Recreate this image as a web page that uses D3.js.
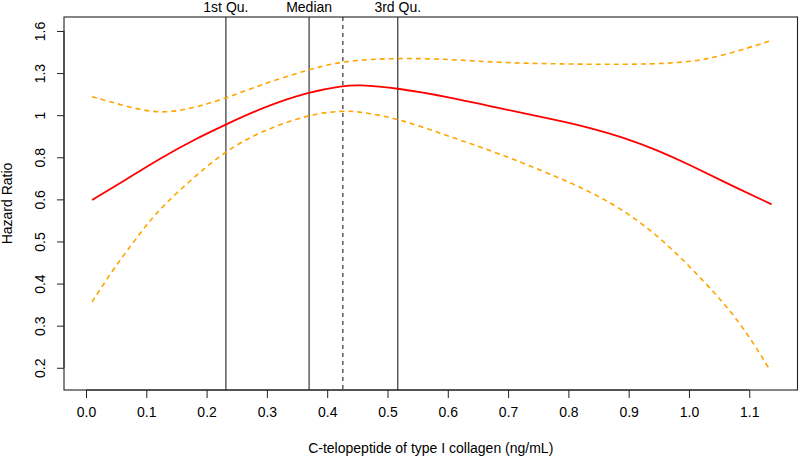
<!DOCTYPE html>
<html>
<head>
<meta charset="utf-8">
<script src="https://cdn.jsdelivr.net/npm/d3@7"></script>
<style>
  html, body { margin: 0; padding: 0; background: #fff; }
  svg { display: block; font-family: "Liberation Sans", Arial, sans-serif; }
</style>
</head>
<body>
<svg id="chart" width="800" height="459"></svg>
<script>
// ---- data (x in ng/mL, values as hazard ratios) ----
const hrX   = [0.010, 0.068, 0.123, 0.178, 0.232, 0.290, 0.370, 0.427, 0.449, 0.517, 0.604, 0.685, 0.781, 0.836, 0.891, 0.947, 1.002, 1.057, 1.137];
const hrY   = [0.604, 0.685, 0.774, 0.863, 0.946, 1.042, 1.150, 1.189, 1.199, 1.175, 1.112, 1.042, 0.972, 0.928, 0.877, 0.813, 0.744, 0.674, 0.589];

const upperX = [0.010, 0.068, 0.123, 0.178, 0.232, 0.289, 0.370, 0.427, 0.517, 0.604, 0.685, 0.781, 0.919, 1.002, 1.057, 1.137];
const upperY = [1.116, 1.052, 1.007, 1.042, 1.106, 1.197, 1.313, 1.382, 1.405, 1.394, 1.366, 1.355, 1.350, 1.369, 1.424, 1.558];

const lowerX = [0.010, 0.045, 0.073, 0.101, 0.129, 0.178, 0.232, 0.289, 0.370, 0.427, 0.454, 0.517, 0.604, 0.685, 0.781, 0.836, 0.891, 0.955, 1.029, 1.085, 1.133];
const lowerY = [0.330, 0.400, 0.458, 0.523, 0.587, 0.690, 0.810, 0.907, 1.007, 1.027, 1.021, 0.982, 0.880, 0.797, 0.694, 0.635, 0.570, 0.481, 0.368, 0.293, 0.222];

const quantValues = [0.232, 0.370, 0.517];
const quantLabels = ["1st Qu.", "Median", "3rd Qu."];
const refValue = 0.426;

const xTicks = [0.0, 0.1, 0.2, 0.3, 0.4, 0.5, 0.6, 0.7, 0.8, 0.9, 1.0, 1.1];
const xTickLabels = ["0.0", "0.1", "0.2", "0.3", "0.4", "0.5", "0.6", "0.7", "0.8", "0.9", "1.0", "1.1"];
const yTickLogs = [0.5, 0.25, 0, -0.25, -0.5, -0.75, -1, -1.25, -1.5];
const yTickLabels = ["1.6", "1.3", "1", "0.8", "0.6", "0.5", "0.4", "0.3", "0.2"];

const xTitle = "C-telopeptide of type I collagen (ng/mL)";
const yTitle = "Hazard Ratio";

// ---- layout ----
const box = { left: 64, right: 797.5, top: 17, bottom: 390 };
const FS = 14;
const svg = d3.select("#chart");

const x = d3.scaleLinear().domain([-0.0365, 1.18]).range([box.left, box.right]);
const y = d3.scaleLinear().domain([-1.632, 0.583]).range([box.bottom, box.top]);

const line = d3.line()
  .x(d => x(d[0]))
  .y(d => y(Math.log(d[1])))
  .curve(d3.curveBasis);

const zip = (a, b) => a.map((v, i) => [v, b[i]]);

// vertical reference lines
svg.append("g").selectAll("line").data(quantValues).join("line")
  .attr("x1", d => x(d)).attr("x2", d => x(d))
  .attr("y1", box.top).attr("y2", box.bottom)
  .attr("stroke", "#444").attr("stroke-width", 1.3);

svg.append("line")
  .attr("x1", x(refValue)).attr("x2", x(refValue))
  .attr("y1", box.top).attr("y2", box.bottom)
  .attr("stroke", "#333").attr("stroke-width", 1.2)
  .attr("stroke-dasharray", "4,4");

// quantile labels on top
svg.append("g").selectAll("text").data(quantValues).join("text")
  .attr("x", d => x(d)).attr("y", 12)
  .attr("text-anchor", "middle")
  .attr("font-size", FS).attr("fill", "#000")
  .text((d, i) => quantLabels[i]);

// confidence bands
svg.append("path").datum(zip(upperX, upperY))
  .attr("d", line).attr("fill", "none")
  .attr("stroke", "#FFA500").attr("stroke-width", 1.6)
  .attr("stroke-dasharray", "5,4");
svg.append("path").datum(zip(lowerX, lowerY))
  .attr("d", line).attr("fill", "none")
  .attr("stroke", "#FFA500").attr("stroke-width", 1.6)
  .attr("stroke-dasharray", "5,4");

// hazard ratio line
svg.append("path").datum(zip(hrX, hrY))
  .attr("d", line).attr("fill", "none")
  .attr("stroke", "#FF0000").attr("stroke-width", 1.8);

// box
svg.append("rect")
  .attr("x", box.left).attr("y", box.top)
  .attr("width", box.right - box.left).attr("height", box.bottom - box.top)
  .attr("fill", "none").attr("stroke", "#222").attr("stroke-width", 1.1);

// x axis
const xAxis = d3.axisBottom(x)
  .tickValues(xTicks)
  .tickFormat((d, i) => xTickLabels[i])
  .tickSize(8).tickPadding(9);
const gx = svg.append("g").attr("transform", `translate(0,${box.bottom})`).call(xAxis);
gx.select(".domain").attr("d", `M${x(xTicks[0])},0H${x(xTicks[xTicks.length - 1])}`).attr("stroke", "#222");
gx.selectAll(".tick line").attr("stroke", "#222");
gx.selectAll(".tick text").attr("font-size", FS).attr("font-family", "Liberation Sans, Arial, sans-serif").attr("fill", "#000");

// y axis
const yAxis = d3.axisLeft(y)
  .tickValues(yTickLogs)
  .tickFormat((d, i) => yTickLabels[i])
  .tickSize(7);
const gy = svg.append("g").attr("transform", `translate(${box.left},0)`).call(yAxis);
gy.select(".domain").attr("d", `M0,${y(yTickLogs[0])}V${y(yTickLogs[yTickLogs.length - 1])}`).attr("stroke", "#222");
gy.selectAll(".tick line").attr("stroke", "#222");
gy.selectAll(".tick text")
  .attr("font-size", FS).attr("font-family", "Liberation Sans, Arial, sans-serif").attr("fill", "#000")
  .attr("x", null).attr("dy", null)
  .attr("text-anchor", "middle")
  .attr("transform", "translate(-19.5,0) rotate(-90)");

// axis titles
svg.append("text")
  .attr("x", (box.left + box.right) / 2).attr("y", 453)
  .attr("text-anchor", "middle").attr("font-size", FS).attr("fill", "#000")
  .text(xTitle);
svg.append("text")
  .attr("transform", `translate(12,${(box.top + box.bottom) / 2}) rotate(-90)`)
  .attr("text-anchor", "middle").attr("font-size", FS).attr("fill", "#000")
  .text(yTitle);
</script>
</body>
</html>
